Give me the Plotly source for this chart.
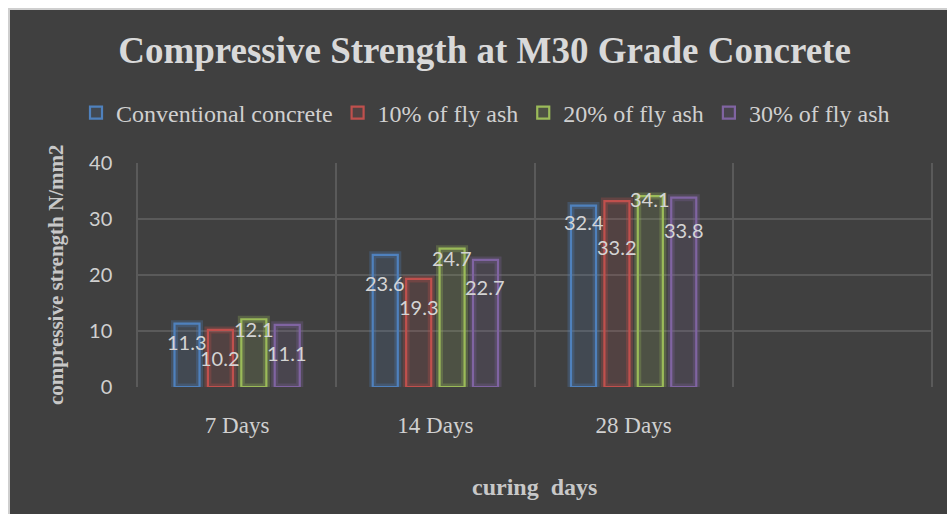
import plotly.graph_objects as go

categories = ["7 Days", "14 Days", "28 Days"]
series_names = ["Conventional concrete", "10% of fly ash", "20% of fly ash", "30% of fly ash"]
conventional = [11.3, 23.6, 32.4]
fly_ash_10 = [10.2, 19.3, 33.2]
fly_ash_20 = [12.1, 24.7, 34.1]
fly_ash_30 = [11.1, 22.7, 33.8]
y_ticks = [0, 10, 20, 30, 40]

# styling
W, H = 947, 514
ML, MR, MT, MB = 138, 16, 163, 127
PW, PH = W - ML - MR, H - MT - MB
colors = ["#4F81BD", "#C0504D", "#9BBB59", "#8064A2"]
glow = ["rgba(79,129,189,0.28)", "rgba(192,80,77,0.28)", "rgba(155,187,89,0.28)", "rgba(128,100,162,0.28)"]
fills = ["rgba(79,129,189,0.14)", "rgba(192,80,77,0.14)", "rgba(155,187,89,0.14)", "rgba(128,100,162,0.14)"]
label_drop = [[18, 28, 16], [28, 28, 46], [10, 9, 3], [28, 27, 32]]  # px below bar top
label_xshift = [-50, -16.7, 16.7, 50]

all_values = [conventional, fly_ash_10, fly_ash_20, fly_ash_30]

fig = go.Figure()
for i, (name, vals) in enumerate(zip(series_names, all_values)):
    fig.add_trace(go.Bar(
        x=categories, y=vals, name=name, offsetgroup=str(i), showlegend=False,
        marker=dict(color="rgba(0,0,0,0)", line=dict(color=glow[i], width=7)),
        hoverinfo="skip",
    ))
for i, (name, vals) in enumerate(zip(series_names, all_values)):
    fig.add_trace(go.Bar(
        x=categories, y=vals, name=name, offsetgroup=str(i),
        marker=dict(color=fills[i], line=dict(color=colors[i], width=2.2)),
    ))

annotations = []
for i, vals in enumerate(all_values):
    for j, v in enumerate(vals):
        annotations.append(dict(
            x=categories[j], y=v, xref="x", yref="y", text=f"{v}", showarrow=False,
            xshift=label_xshift[i], yshift=-label_drop[i][j], yanchor="middle",
            font=dict(family="Lato", size=20, color="#d4d4d4"),
        ))

annotations.append(dict(
    text="compressive strength N/mm2", xref="paper", yref="paper", x=0, y=0.5,
    xshift=-82, textangle=-90, showarrow=False, xanchor="center", yanchor="middle",
    font=dict(family="Liberation Serif", size=21, color="#c8c8c8", weight="bold"),
))
annotations.append(dict(
    text="curing  days", xref="paper", yref="paper", x=0.5, y=0, yshift=-100,
    showarrow=False, xanchor="center", yanchor="middle",
    font=dict(family="Liberation Serif", size=24, color="#c8c8c8", weight="bold"),
))

fig.update_layout(
    width=W, height=H,
    margin=dict(l=ML, r=MR, t=MT, b=MB, autoexpand=False),
    paper_bgcolor="#ffffff", plot_bgcolor="rgba(0,0,0,0)",
    barmode="group", bargap=0.326, bargroupgap=0.25,
    title=dict(text="<b>Compressive Strength at M30 Grade Concrete</b>", x=484.5 / W, xref="container",
               xanchor="center", y=1 - 50 / H, yanchor="middle",
               font=dict(family="Liberation Serif", size=37, color="#d9d9d9")),
    legend=dict(orientation="h", xref="paper", x=(76 - ML) / PW, xanchor="left",
                yref="paper", y=1 + (MT - 113) / PH, yanchor="middle",
                font=dict(family="Liberation Serif", size=24, color="#d0d0d0"),
                bgcolor="rgba(0,0,0,0)", itemclick=False),
    xaxis=dict(range=[-0.5, 3.5], tickson="boundaries", showgrid=True, gridcolor="#5a5a5a",
               gridwidth=1.5, ticks="", tickfont=dict(family="Liberation Serif", size=23, color="#d0d0d0"),
               ticklabelstandoff=22, showline=False, zeroline=False, fixedrange=True, automargin=False),
    yaxis=dict(range=[0, 40], tickvals=y_ticks, showgrid=True, gridcolor="#5a5a5a", gridwidth=1.5,
               showline=True, mirror=True, linecolor="#5a5a5a", linewidth=1.5,
               zeroline=False, ticks="", ticklabelstandoff=20, automargin=False,
               tickfont=dict(family="Lato", size=20, color="#d0d0d0"), fixedrange=True),
    annotations=annotations,
    shapes=[
        dict(type="rect", xref="paper", yref="paper", xsizemode="pixel", ysizemode="pixel",
             xanchor=0, yanchor=0, x0=-ML + 8, x1=PW + MR + 30, y0=-MB - 30, y1=PH + MT - 8,
             fillcolor="#cfcfcf", line=dict(width=0), layer="below"),
        dict(type="rect", xref="paper", yref="paper", xsizemode="pixel", ysizemode="pixel",
             xanchor=0, yanchor=0, x0=-ML + 10, x1=PW + MR + 30, y0=-MB - 30, y1=PH + MT - 10,
             fillcolor="#404040", line=dict(width=0), layer="below"),
    ],
)

fig.write_html(
    "out.html",
    config={"displayModeBar": False},
    post_script="document.body.style.margin='0';document.documentElement.style.overflow='hidden';",
)
